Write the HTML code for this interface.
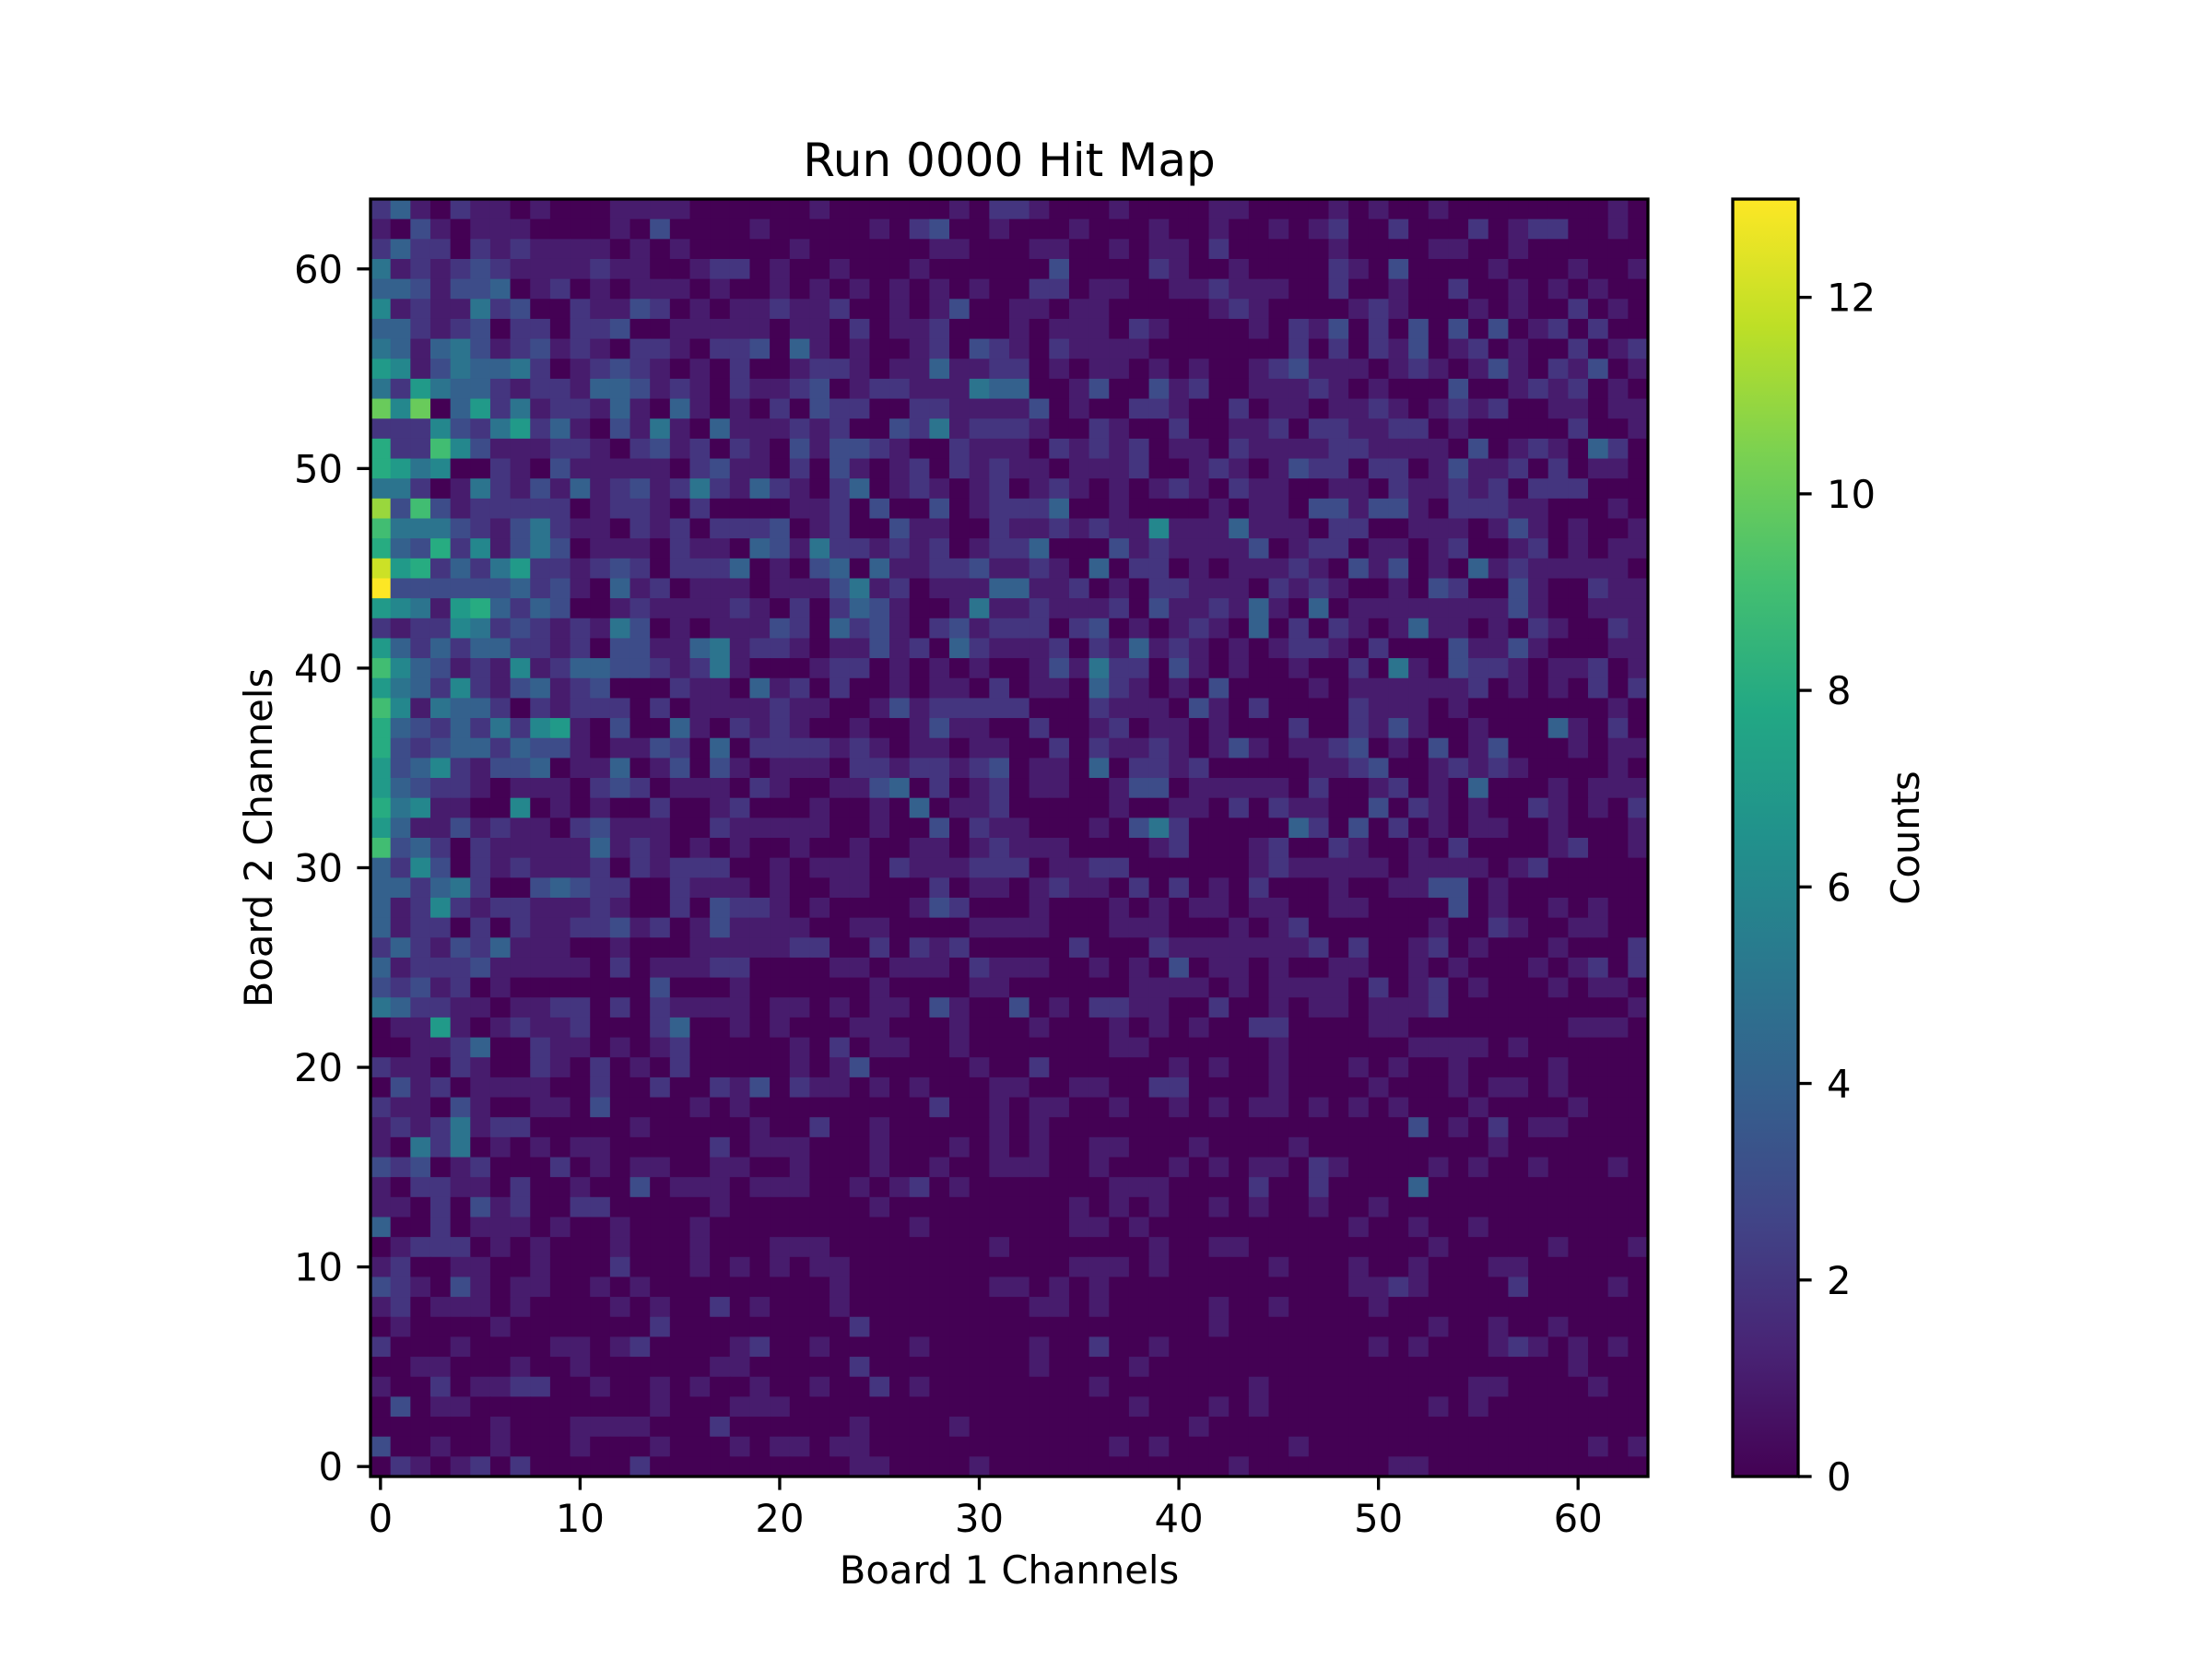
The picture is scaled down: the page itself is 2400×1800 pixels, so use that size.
<!DOCTYPE html>
<html><head><meta charset="utf-8"><title>Run 0000 Hit Map</title>
<style>
html,body{margin:0;padding:0;background:#fff;}
svg{display:block;}
text{font-family:"DejaVu Sans","Liberation Sans",sans-serif;fill:#000;}
</style></head>
<body>
<svg id="chart" width="2400" height="1800" viewBox="0 0 2400 1800" xmlns="http://www.w3.org/2000/svg">
<defs>
<linearGradient id="vir" x1="0" y1="1" x2="0" y2="0">
<stop offset="0" stop-color="#440154"/><stop offset="0.1" stop-color="#482475"/><stop offset="0.2" stop-color="#414487"/><stop offset="0.3" stop-color="#355f8d"/><stop offset="0.4" stop-color="#2a788e"/><stop offset="0.5" stop-color="#21918c"/><stop offset="0.6" stop-color="#22a884"/><stop offset="0.7" stop-color="#44bf70"/><stop offset="0.8" stop-color="#7ad151"/><stop offset="0.9" stop-color="#bddf26"/><stop offset="1" stop-color="#fde725"/>
</linearGradient>
</defs>
<g id="cells"></g>
<rect x="402" y="216" width="1386" height="1386" fill="none" stroke="#000" stroke-width="3.33"/>
<g id="xaxis"></g>
<g id="yaxis"></g>
<text x="1095" y="191" font-size="50" text-anchor="middle">Run 0000 Hit Map</text>
<text x="1095" y="1718" font-size="41.7" text-anchor="middle">Board 1 Channels</text>
<text transform="translate(295,909) rotate(-90)" font-size="41.7" text-anchor="middle">Board 2 Channels</text>
<rect x="1880" y="216" width="71" height="1386" fill="url(#vir)" stroke="#000" stroke-width="3.33"/>
<g id="cbaxis"></g>
<text transform="translate(2082,909) rotate(-90)" font-size="41.7" text-anchor="middle">Counts</text>
</svg>
<script>
// rows from channel 63 (top) to channel 0 (bottom); 0-9, a=10, b=11, c=12, d=13
const hitRows = [
"2410211010001111000000100000010221000100001100001010010000000010",
"1031011100001030000100000102300100010001001001012002000201220010",
"2422021211110101000001000000110001100101102000001000011001000000",
"5121232111121100122010010001000000300002100100002103000010001001",
"4431334012010111010010101010101002201100112111002001002001010100",
"6121152300211320101121120010130011011000001210000121000101002010",
"4421230220223001111101102011200010111021000010213020303030120200",
"5414531231210221022304101001203210211110000000202021301201002012",
"7613544520123210102001221011411220101101010012311101210131021301",
"5275442122144312102112301221115440013003120011121010003001212010",
"a6a0472512214104101020322002211113010022100201101121012120011011",
"2226325724103151041112120032512221002100200112022112201000002001",
"8229631112210231202103133210021110212120110211112211110301210420",
"8756002103111110231102031012021211011120012101322022013112020110",
"5520152131412312521421024012101201210101210211001102112120222000",
"b393122222012210200001120300301222400100001011033133102221100010",
"9555321352110212022230120031100211212116111411102200111013101001",
"8438261353011102110431522121201224000312111130122011012001201011",
"c782425722123202224010340411223112104022010111210313010412111110",
"d333333423104120111011135120111441120102211102121001032003100211",
"7651784243001211112102024310015112111203112141040111111113100111",
"2122652321215301011132042310231222023010121040202101411010210021",
"7424244221203311451221011312042111202141210101221020003113100011",
"9643121612443321251000122010101001315220310100100205103221011201",
"7542621341230002110412020010110201104210103000010111111201010202",
"9615442021222020111121100131222220002111031020000211101000000010",
"8432425267103004102121001001311002001201101000200213100100041020",
"8323442433101132040222212101101100202112101310112301030130001011",
"7346213340114013031011102212212301104022120000011230012121000010",
"7432210111023201110210011340201201100133011111020012010400010111",
"8561100601010020012000100104011200000100110202110030210100210102",
"7411312110231110021111100100302110001035200000420302010110010001",
"9342021111141210101001001001101211100001200012002100102000012001",
"4263021211120212220010111021112220112200000012111110111101200000",
"4424520034322002111010011000201101211020201020001001133010000000",
"4126212211121002032210100001320001000101011011001100003010010100",
"4122020211223120131111001100001111000111000101200000010021001100",
"2421324111001000111112200202120000020002111111120200120100010002",
"4122231111102011122000011011102111001010301101001100101000101202",
"3231201000000030001000000100001100000011110101111020120100010110",
"5422110112202021111011010110310030102211002001011011120000000001",
"0117101211200024001010001100010001000101010022000011000000001110",
"0011240021101012000001020110010000000110000001000000111101000000",
"2110210021020102000001013000001002000000101001000101001000010000",
"0312011110020020021302110101000110011002200001000010001011010000",
"2110310011030000101000000000200101100100101011010101000100001000",
"1212512200000100000100200100000101000000000000000000301020110000",
"1052501010110000020111000100010101001100010000100000000010000000",
"3230120002010110011001000100100111001000101011021000010100100010",
"1022110200100301110111001012010000000111000020020000400000000000",
"1102031200220000010000000100000000010101001010010010000000000000",
"4002011101001000100000000001000000011010000000000100100100000000",
"0122201010001000100011100000000100000001001100000000010000010001",
"1200110010002000101010110000000000011101000001000100100011000000",
"3210310110010100000000010000000110101000000000000112100002000010",
"1201110100001010020100010000000001101000001001000010000000000000",
"0100001000000020000000002000000000000000001000000000010010010000",
"2000100001101200001200100001000001002001000000000010100012101010",
"0011000100100000011000002000000001000010000000000000000000001000",
"1002011220010010100100100201000000001000000010000000000110000100",
"0301100000000010001110000000000000000010001010000000010100000000",
"0000001000111100020000001000010000000000010000000000000000000000",
"3001001000100010001011011000000000000101000000100000000000000101",
"0210120200000200000000001100001000000000000100000001100000000000"
];
const xTickValues = [0, 10, 20, 30, 40, 50, 60];
const yTickValues = [0, 10, 20, 30, 40, 50, 60];
const cbTickValues = [0, 2, 4, 6, 8, 10, 12];
const vMax = 13;

const NS = "http://www.w3.org/2000/svg";
const AX_L = 402, AX_T = 216, AX_S = 1386, N = 64, CELL = AX_S / N;
const CB_L = 1880, CB_W = 71;
function xScale(i){ return AX_L + i * CELL; }
function yScale(j){ return AX_T + (N - 1 - j) * CELL; }
function cbScale(v){ return AX_T + AX_S - v / vMax * AX_S; }
const VIR = ["#440154","#482475","#414487","#355f8d","#2a788e","#21918c","#22a884","#44bf70","#7ad151","#bddf26","#fde725"];
function hx(c){ return [parseInt(c.substr(1,2),16),parseInt(c.substr(3,2),16),parseInt(c.substr(5,2),16)]; }
function viridis(t){
  t = Math.max(0, Math.min(1, t));
  const p = t * 10, i = Math.min(9, Math.floor(p)), f = p - i;
  const a = hx(VIR[i]), b = hx(VIR[i+1]);
  return "rgb(" + a.map((v,k)=>Math.round(v + (b[k]-v)*f)).join(",") + ")";
}
function mk(tag, attrs){ const e = document.createElementNS(NS, tag); for (const k in attrs) e.setAttribute(k, attrs[k]); return e; }

const cells = document.getElementById("cells");
hitRows.forEach((row, r) => {
  const yCh = N - 1 - r;
  for (let x = 0; x < N; x++) {
    const v = parseInt(row[x], 16);
    const rect = mk("rect", {x: xScale(x).toFixed(2), y: yScale(yCh).toFixed(2), width: (CELL + 0.6).toFixed(2), height: (CELL + 0.6).toFixed(2), fill: viridis(v / vMax)});
    
    
    cells.appendChild(rect);
  }
});

const xa = document.getElementById("xaxis");
xTickValues.forEach(v => {
  const cx = xScale(v) + CELL / 2;
  const t = mk("line", {x1: cx, x2: cx, y1: AX_T + AX_S, y2: AX_T + AX_S + 14.6, stroke: "#000", "stroke-width": 3.33});
  
  
  xa.appendChild(t);
  const l = mk("text", {x: cx, y: 1662, "font-size": 41.7, "text-anchor": "middle"});
  l.textContent = String(v);
  
  
  xa.appendChild(l);
});
const ya = document.getElementById("yaxis");
yTickValues.forEach(v => {
  const cy = yScale(v) + CELL / 2;
  const t = mk("line", {x1: AX_L - 14.6, x2: AX_L, y1: cy, y2: cy, stroke: "#000", "stroke-width": 3.33});
  
  
  ya.appendChild(t);
  const l = mk("text", {x: 372, y: cy + 15, "font-size": 41.7, "text-anchor": "end"});
  l.textContent = String(v);
  
  
  ya.appendChild(l);
});
const ca = document.getElementById("cbaxis");
cbTickValues.forEach(v => {
  const cy = cbScale(v);
  const t = mk("line", {x1: CB_L + CB_W, x2: CB_L + CB_W + 14.6, y1: cy, y2: cy, stroke: "#000", "stroke-width": 3.33});
  
  
  ca.appendChild(t);
  const l = mk("text", {x: 1982, y: cy + 15, "font-size": 41.7, "text-anchor": "start"});
  l.textContent = String(v);
  
  
  ca.appendChild(l);
});
</script>
</body></html>
